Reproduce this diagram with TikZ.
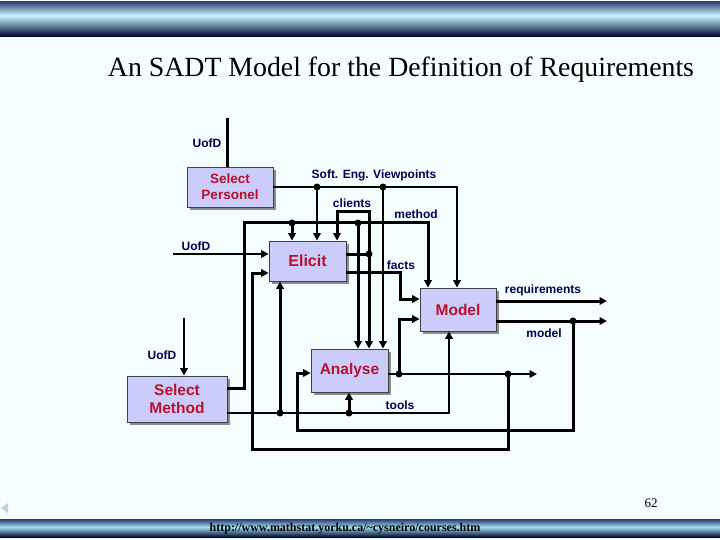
\documentclass[tikz,border=0pt]{standalone}
\usepackage{fontspec}
\setmainfont{Liberation Serif}
\setsansfont{Liberation Sans}
\usetikzlibrary{arrows.meta,shadows}
\definecolor{bgcol}{RGB}{244,254,254}
\definecolor{boxfill}{RGB}{204,204,250}
\definecolor{boxtext}{RGB}{185,16,45}
\definecolor{labelcol}{RGB}{0,0,80}
\definecolor{barA}{RGB}{40,56,112}
\definecolor{barB}{RGB}{195,242,250}
\definecolor{barBB}{RGB}{160,222,238}
\definecolor{barC}{RGB}{0,8,50}
\tikzset{
  box/.style={draw=black!75, line width=0.8pt, fill=boxfill, inner sep=0pt, align=center,
    font=\sffamily\bfseries, text=boxtext,
    drop shadow={shadow xshift=3pt, shadow yshift=-3pt, fill=black!45, opacity=1}},
  thickl/.style={line width=3pt, line join=miter},
  thinl/.style={line width=2pt, line join=miter},
  arr/.style={-{Triangle[length=7.5pt,width=7.5pt]}},
  dot/.style={circle, fill=black, inner sep=0pt, minimum size=7pt},
  lbl/.style={font=\sffamily\bfseries\fontsize{12}{14}\selectfont, text=labelcol, inner sep=0pt},
}
\begin{document}
\begin{tikzpicture}[x=1pt,y=-1pt]
\useasboundingbox (0,0) rectangle (720,540);
\fill[bgcol] (0,0) rectangle (720,540);
% top bar (strips)
\foreach \i in {0,...,14}{
  \pgfmathtruncatemacro{\p}{100*\i/14}
  \fill[barB!\p!barA] (0,1+\i) rectangle (720,2.05+\i);
}
\foreach \i in {0,...,20}{
  \pgfmathtruncatemacro{\p}{100*\i/20}
  \fill[barC!\p!barB] (0,16+\i) rectangle (720,17.05+\i);
}
% bottom bar (strips)
\foreach \i in {0,...,8}{
  \pgfmathtruncatemacro{\p}{100*\i/8}
  \fill[barBB!\p!barA] (0,519+\i) rectangle (720,520.05+\i);
}
\foreach \i in {0,...,10}{
  \pgfmathtruncatemacro{\p}{100*\i/10}
  \fill[barC!\p!barBB] (0,527+\i) rectangle (720,528.05+\i);
}
\node[font=\fontsize{27.8}{30}\selectfont, inner sep=0pt] (title) at (401,70) {An SADT Model for the Definition of Requirements};
\node[font=\fontsize{13}{15}\selectfont, inner sep=0pt] (pg) at (651,503) {62};
\node[font=\bfseries\fontsize{12}{13}\selectfont, inner sep=0pt] (url) at (345,529) {http://www.mathstat.yorku.ca/\textasciitilde cysneiro/courses.htm};
\fill[black!20] (1,508) -- (8,503) -- (8,513) -- cycle;

% boxes
\node[box, minimum width=86pt, minimum height=40pt, font=\sffamily\bfseries\fontsize{13.5}{16}\selectfont] (selp) at (230,187) {Select\\Personel};
\node[box, minimum width=77pt, minimum height=40pt, font=\sffamily\bfseries\fontsize{16}{18}\selectfont] (elicit) at (307.5,261) {Elicit};
\node[box, minimum width=76pt, minimum height=43pt, font=\sffamily\bfseries\fontsize{15.5}{18}\selectfont] (model) at (458,309.5) {Model};
\node[box, minimum width=77pt, minimum height=43pt, font=\sffamily\bfseries\fontsize{15.5}{18}\selectfont] (analyse) at (349.5,370.5) {Analyse};
\node[box, minimum width=100pt, minimum height=46pt, font=\sffamily\bfseries\fontsize{15.5}{18.5}\selectfont] (selm) at (177,399) {Select\\Method};

% dots
\node[dot] (dsev1) at (317,187) {};
\node[dot] (dsev2) at (383,187) {};
\node[dot] (dm1) at (292,223) {};
\node[dot] (dm2) at (358,223) {};
\node[dot] (dcl) at (369,254) {};
\node[dot] (dao1) at (399,374) {};
\node[dot] (dao2) at (508,374) {};
\node[dot] (dmod) at (573,321) {};
\node[dot] (dt1) at (280,413) {};
\node[dot] (dt2) at (349,413) {};

% coordinates
\coordinate (uofdA) at (227,118);
\coordinate (sevR) at (457,187);
\coordinate (mA) at (244,388);
\coordinate (mB) at (244,223);
\coordinate (mC) at (428,223);
\coordinate (clA) at (337,212);
\coordinate (clB) at (369,212);
\coordinate (fA) at (400,272);
\coordinate (fB) at (400,299);
\coordinate (uofdB) at (173,254);
\coordinate (aoEnd) at (537,374);
\coordinate (g1) at (399,319);
\coordinate (g2a) at (508,449);
\coordinate (g2b) at (252,449);
\coordinate (g2c) at (252,273);
\coordinate (reqE) at (607,301);
\coordinate (modE) at (607,321);
\coordinate (i1a) at (573,430);
\coordinate (i1b) at (297,430);
\coordinate (i1c) at (297,373);
\coordinate (tA) at (449,413);
\coordinate (uofdC) at (184,318);

% connectors
\draw[thickl] (uofdA) -- (uofdA |- selp.north);
\draw[thinl, arr] (selp.east) -- (sevR) -- (sevR |- model.north);
\draw[thinl, arr] (dsev1.center) -- (dsev1 |- elicit.north);
\draw[thinl, arr] (dsev2.center) -- (dsev2 |- analyse.north);
\draw[thickl, arr] (selm.east |- mA) -- (mA) -- (mB) -- (mC) -- (mC |- model.north);
\draw[thickl, arr] (dm1.center) -- (dm1 |- elicit.north);
\draw[thickl, arr] (dm2.center) -- (dm2 |- analyse.north);
\draw[thickl] (elicit.east |- dcl) -- (dcl.center);
\draw[thickl, {Triangle[length=7.5pt,width=7.5pt]}-{Triangle[length=7.5pt,width=7.5pt]}] (clA |- elicit.north) -- (clA) -- (clB) -- (clB |- analyse.north);
\draw[thickl, arr] (elicit.east |- fA) -- (fA) -- (fB) -- (fB -| model.west);
\draw[thinl, arr] (uofdB) -- (uofdB -| elicit.west);
\draw[thinl, arr] (analyse.east |- aoEnd) -- (aoEnd);
\draw[thickl, arr] (dao1.center) -- (g1) -- (g1 -| model.west);
\draw[thickl, arr] (dao2.center) -- (g2a) -- (g2b) -- (g2c) -- (g2c -| elicit.west);
\draw[thickl, arr] (model.east |- reqE) -- (reqE);
\draw[thickl, arr] (model.east |- modE) -- (modE);
\draw[thickl, arr] (dmod.center) -- (i1a) -- (i1b) -- (i1c) -- (i1c -| analyse.west);
\draw[thinl, arr] (selm.east |- tA) -- (tA) -- (tA |- model.south);
\draw[thickl, arr] (dt1.center) -- (dt1 |- elicit.south);
\draw[thickl, arr] (dt2.center) -- (dt2 |- analyse.south);
\draw[thinl, arr] (uofdC) -- (uofdC |- selm.north);

% labels
\node[lbl] (l1) at (207,143) {UofD};
\node[lbl] (l2) at (374,175) {Soft. Eng. Viewpoints};
\node[lbl] (l3) at (352,203) {clients};
\node[lbl] (l4) at (416,214) {method};
\node[lbl] (l5) at (196,246) {UofD};
\node[lbl] (l6) at (401,265) {facts};
\node[lbl] (l7) at (543,290) {requirements};
\node[lbl] (l8) at (544,333) {model};
\node[lbl] (l9) at (162,355) {UofD};
\node[lbl] (l10) at (400,405) {tools};
\end{tikzpicture}
\end{document}
